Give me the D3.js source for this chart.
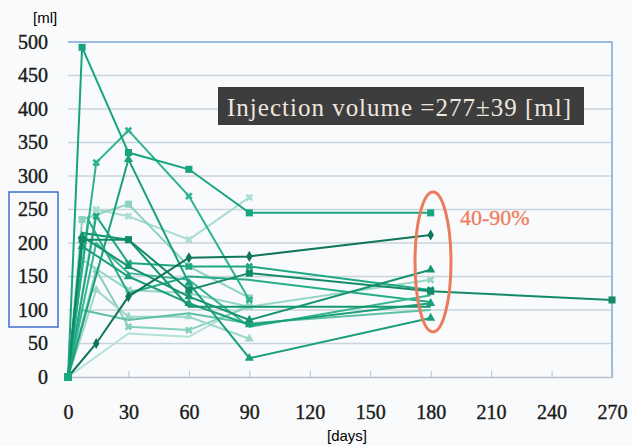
<!doctype html>
<html lang="en">
<head>
	<meta charset="UTF-8">
	<title>Injection volume</title>
	<script src="https://cdn.jsdelivr.net/npm/d3@7"></script>
	<style>
		body { margin: 0; background: #f9fafc; }
	</style>
</head>
<body>
<div id="container"></div>
<script>
	var width = 632, height = 446;
	var margin = {left: 68, top: 42, right: 20, bottom: 69};
	var g_width = width - margin.left - margin.right;
	var g_height = height - margin.top - margin.bottom;
	var serif = "'Liberation Serif', 'Times New Roman', 'DejaVu Serif', serif";

	// x ticks (days) and y ticks (ml)
	var day_ticks = [0, 30, 60, 90, 120, 150, 180, 210, 240, 270];
	var ml_ticks = [0, 50, 100, 150, 200, 250, 300, 350, 400, 450, 500];

	// one array per patient: [day, ml]
	var p1 = [[0, 0], [7, 492], [30, 335], [60, 310], [90, 245], [180, 245]];
	var p2 = [[0, 0], [14, 320], [30, 368], [60, 270], [90, 115]];
	var p3 = [[0, 0], [30, 325], [60, 140], [90, 28], [180, 88]];
	var p4 = [[0, 0], [14, 50], [30, 120], [60, 178], [90, 180], [180, 212]];
	var p5 = [[0, 0], [7, 205], [30, 205], [60, 130], [90, 155], [180, 128], [270, 115]];
	var p6 = [[0, 0], [7, 210], [30, 165], [60, 120], [90, 85], [180, 160]];
	var p7 = [[0, 0], [7, 235], [30, 258], [60, 165], [90, 118]];
	var p8 = [[0, 0], [14, 250], [30, 240], [60, 205], [90, 268]];
	var p9 = [[0, 0], [7, 175], [30, 130], [60, 125], [90, 105], [180, 145]];
	var p10 = [[0, 0], [14, 240], [30, 170], [60, 165], [90, 165], [180, 130]];
	var p11 = [[0, 0], [7, 195], [30, 150], [60, 110], [90, 78], [180, 110]];
	var p12 = [[0, 0], [10, 235], [30, 125], [60, 150], [90, 145], [180, 112]];
	var p13 = [[0, 0], [14, 130], [30, 90], [60, 90], [90, 57]];
	var p14 = [[0, 0], [7, 100], [30, 85], [60, 95], [90, 80], [180, 100]];
	var p15 = [[0, 0], [30, 65], [60, 60], [90, 110]];
	var p16 = [[0, 0], [14, 160], [30, 75], [60, 70], [90, 105]];
	var p17 = [[0, 0], [7, 215], [30, 205], [60, 105], [90, 105], [180, 105]];
	var p18 = [[0, 0], [14, 200], [30, 155], [60, 145], [90, 75], [180, 122]];

	var series = [
		{d: p8, c: "#a8ddcf", m: "x"},
		{d: p15, c: "#b3e2d5", m: "none"},
		{d: p16, c: "#86cfba", m: "x"},
		{d: p13, c: "#9cd8c7", m: "tri"},
		{d: p7, c: "#8dd3bf", m: "sq"},
		{d: p9, c: "#98d6c4", m: "x"},
		{d: p14, c: "#5ec1a5", m: "none"},
		{d: p2, c: "#2db391", m: "x"},
		{d: p12, c: "#27ac89", m: "none"},
		{d: p18, c: "#38b595", m: "none"},
		{d: p10, c: "#1fa783", m: "x"},
		{d: p11, c: "#1c9f7b", m: "tri"},
		{d: p17, c: "#14966f", m: "none"},
		{d: p3, c: "#1aa07c", m: "tri"},
		{d: p6, c: "#16946f", m: "tri"},
		{d: p5, c: "#138a67", m: "sq"},
		{d: p4, c: "#0f7657", m: "dia"},
		{d: p1, c: "#17a47f", m: "sq"}
	];

	var scale_x = d3.scaleLinear().domain([0, 270]).range([0, g_width]);
	var scale_y = d3.scaleLinear().domain([0, 500]).range([g_height, 0]);

	var svg = d3.select("#container").append("svg")
		.attr("width", width).attr("height", height);

	var g = svg.append("g")
		.attr("transform", "translate(" + margin.left + "," + margin.top + ")");

	// grid
	g.selectAll(".grid").data(ml_ticks.slice(1, -1)).enter().append("line")
		.attr("x1", 0).attr("x2", g_width)
		.attr("y1", function (d) { return scale_y(d); })
		.attr("y2", function (d) { return scale_y(d); })
		.attr("stroke", "#c9d5de").attr("stroke-width", 1.5);

	// frame top / right
	g.append("path")
		.attr("d", "M0,0H" + g_width + "V" + g_height)
		.attr("fill", "none").attr("stroke", "#7aa7dc").attr("stroke-width", 1.5);

	// x axis
	var x_axis = d3.axisBottom(scale_x).tickValues(day_ticks).tickSize(-6).tickPadding(28);
	var gx = g.append("g").attr("transform", "translate(0," + g_height + ")").call(x_axis);
	gx.select(".domain").attr("stroke", "#b8c0c8").attr("stroke-width", 1.5);
	gx.selectAll(".tick line").attr("stroke", "#b8c0c8");
	gx.selectAll("text").style("font-family", serif).style("font-size", "20px")
		.attr("fill", "#1a1a1a").attr("stroke", "#1a1a1a").attr("stroke-width", 0.4);

	// y axis
	var y_axis = d3.axisLeft(scale_y).tickValues(ml_ticks).tickSize(0).tickPadding(20);
	var gy = g.append("g").call(y_axis);
	gy.select(".domain").remove();
	gy.selectAll("text").style("font-family", serif).style("font-size", "20px")
		.attr("fill", "#1a1a1a").attr("stroke", "#1a1a1a").attr("stroke-width", 0.4);

	// lines
	var line_generator = d3.line()
		.x(function (d) { return scale_x(d[0]); })
		.y(function (d) { return scale_y(d[1]); });

	var sg = g.selectAll(".series").data(series).enter().append("g");
	sg.append("path")
		.attr("d", function (s) { return line_generator(s.d); })
		.attr("fill", "none")
		.attr("stroke", function (s) { return s.c; })
		.attr("stroke-width", 2);

	var sym = {sq: d3.symbolSquare, tri: d3.symbolTriangle, dia: d3.symbolDiamond, x: d3.symbolCross};
	sg.each(function (s) {
		if (s.m === "none") return;
		d3.select(this).selectAll("path.pt").data(s.d.slice(1)).enter().append("path")
			.attr("class", "pt")
			.attr("transform", function (d) {
				return "translate(" + scale_x(d[0]) + "," + scale_y(d[1]) + ")" + (s.m === "x" ? " rotate(45)" : "");
			})
			.attr("d", d3.symbol().type(sym[s.m]).size(s.m === "sq" ? 50 : 36))
			.attr("fill", s.c);
	});
	// origin marker
	g.append("rect").attr("x", scale_x(0) - 4).attr("y", scale_y(0) - 4)
		.attr("width", 8).attr("height", 8).attr("fill", "#1aa882");

	// units
	svg.append("text").attr("x", 33).attr("y", 23).text("[ml]")
		.style("font-size", "15px").style("font-family", "'Liberation Sans', sans-serif");
	svg.append("text").attr("x", 347).attr("y", 441).attr("text-anchor", "middle").text("[days]")
		.style("font-size", "15px").style("font-family", "'Liberation Sans', sans-serif");

	// highlight box around 100-250 labels
	svg.append("rect").attr("x", 9).attr("y", 192).attr("width", 49).attr("height", 135)
		.attr("fill", "none").attr("stroke", "#3e6fd0").attr("stroke-width", 1.5);

	// injection volume note
	svg.append("rect").attr("x", 218).attr("y", 87).attr("width", 366).attr("height", 38)
		.attr("fill", "#3d3d3d");
	svg.append("text").attr("x", 227).attr("y", 116).text("Injection  volume  =277\u00b139  [ml]")
		.style("font-family", serif).style("font-size", "25px").attr("fill", "#efe6de")
		.attr("textLength", 344).attr("lengthAdjust", "spacing");

	// ellipse on 180 days
	svg.append("ellipse").attr("cx", 433).attr("cy", 262).attr("rx", 18).attr("ry", 70)
		.attr("fill", "none").attr("stroke", "#ec7a5c").attr("stroke-width", 3);
	svg.append("text").attr("x", 460).attr("y", 225).text("40-90%")
		.style("font-family", serif).style("font-size", "22px").attr("fill", "#ee7e5e")
		.attr("stroke", "#ee7e5e").attr("stroke-width", 0.3);
</script>
</body>
</html>
